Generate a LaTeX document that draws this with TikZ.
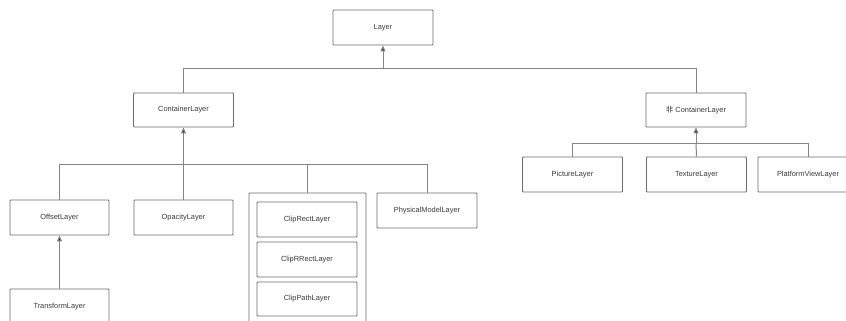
\documentclass[tikz,border=0pt]{standalone}
\usepackage{fontspec}
\setmainfont{Liberation Sans}
\newfontfamily\cjk{Noto Sans CJK SC}
\usetikzlibrary{arrows.meta}
\definecolor{boxline}{HTML}{6E6E6E}
\definecolor{conline}{HTML}{858585}
\definecolor{txt}{HTML}{3A3A3A}
\tikzset{
  layerbox/.style={draw=boxline, line width=0.9pt, rounded corners=0.8pt, fill=white, minimum width=100pt, minimum height=35pt,
    inner sep=0pt, font=\fontsize{7.4}{8}\selectfont, text=txt},
  conn/.style={draw=conline, line width=1pt},
  arr/.style={conn, -{Triangle[length=6pt,width=5pt,fill=black!85]}}
}
\begin{document}
\begin{tikzpicture}[x=1pt,y=-1pt]
\useasboundingbox (0,0) rectangle (846,321);
\clip (0,0) rectangle (846,321);
\fill[white] (0,0) rectangle (846,321);
% nodes
\node[layerbox] (layer) at (383,27.5) {Layer};
\node[layerbox, minimum height=34pt] (cl) at (183.5,110) {ContainerLayer};
\node[layerbox, minimum height=34pt] (ncl) at (696,110) {{\cjk 非} ContainerLayer};
\node[layerbox] (pic) at (572.5,174.5) {PictureLayer};
\node[layerbox] (tex) at (696.5,174.5) {TextureLayer};
\node[layerbox] (plat) at (808,174.5) {PlatformViewLayer};
\node[layerbox, minimum width=99pt] (off) at (59.5,217.5) {OffsetLayer};
\node[layerbox, minimum width=99pt] (opa) at (183.5,217.5) {OpacityLayer};
\node[layerbox] (phys) at (427,210.5) {PhysicalModelLayer};
\node[layerbox, minimum width=117pt, minimum height=140pt] (clip) at (307.5,263) {};
\node[layerbox] (crect) at (307,219.5) {ClipRectLayer};
\node[layerbox] (crrect) at (307,259.5) {ClipRRectLayer};
\node[layerbox, minimum height=34pt] (cpath) at (307,299) {ClipPathLayer};
\node[layerbox, minimum width=99pt] (trans) at (59.5,306.5) {TransformLayer};
% junctions
\coordinate (j1) at (383,69);
\coordinate (j2) at (183.5,164);
\coordinate (j3) at (696,143);
% connectors
\draw[conn] (cl.north) |- (j1);
\draw[conn] (ncl.north) |- (j1);
\draw[arr] (j1) -- (layer.south);
\draw[conn] (off.north) |- (j2);
\draw[conn] (opa.north) -- (j2);
\draw[conn] (clip.north) |- (j2);
\draw[conn] (phys.north) |- (j2);
\draw[arr] (j2) -- (cl.south);
\draw[conn] (pic.north) |- (j3);
\draw[conn] (plat.north) |- (j3);
\draw[conn] (tex.north) -- (j3);
\draw[arr] (j3) -- (ncl.south);
\draw[arr] (trans.north) -- (off.south);
\end{tikzpicture}
\end{document}
